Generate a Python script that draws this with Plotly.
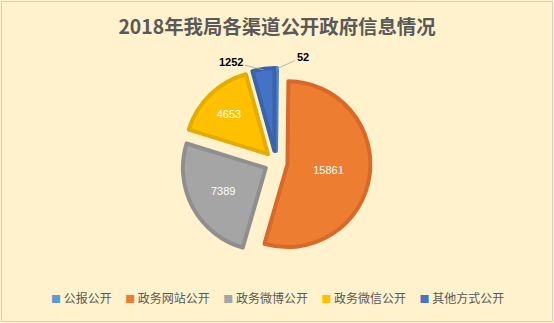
import math
import plotly.graph_objects as go

# Publication channels and their counts for 2018
channels = ["公报公开", "政务网站公开", "政务微博公开", "政务微信公开", "其他方式公开"]
counts = [52, 15861, 7389, 4653, 1252]

fill_colors = ["#5B9BD5", "#ED7D31", "#A5A5A5", "#FFC000", "#4472C4"]
edge_colors = ["#4A86C0", "#D9692A", "#8F8F8F", "#E5AC00", "#3A63AC"]
label_inside = [False, True, True, True, False]
# offsets (px) of the outside labels from the slice edge
label_offsets = {0: (26, -12), 4: (-32, -8)}

W, H = 554, 323
ML, MR, MT, MB = 60, 62, 68, 66
PULL = 0.14
plot_w = W - ML - MR
plot_h = H - MT - MB
cx, cy = ML + plot_w / 2, MT + plot_h / 2
radius = plot_h / 2 / (1 + PULL)


def to_paper(x, y):
    return (x - ML) / plot_w, (H - MB - y) / plot_h


fig = go.Figure(
    go.Pie(
        labels=channels,
        values=counts,
        sort=False,
        direction="clockwise",
        rotation=0,
        pull=[PULL] * len(counts),
        text=[str(v) if ins else "" for v, ins in zip(counts, label_inside)],
        textinfo="text",
        textposition=["inside" if ins else "none" for ins in label_inside],
        insidetextorientation="horizontal",
        textfont=dict(family="Liberation Sans, Arial", size=11, color="#FFFFFF"),
        marker=dict(colors=fill_colors, line=dict(color=edge_colors, width=4)),
        hoverinfo="label+value+percent",
        showlegend=False,
    )
)

annotations = []

# outside value labels with leader lines for the thin slices
total = sum(counts)
start = 0.0
for i, v in enumerate(counts):
    span = 360.0 * v / total
    mid = math.radians(start + span / 2)
    start += span
    if label_inside[i]:
        continue
    dist = (1 + PULL) * radius - 1
    tx = cx + dist * math.sin(mid)
    ty = cy - dist * math.cos(mid)
    px, py = to_paper(tx, ty)
    ax, ay = label_offsets[i]
    annotations.append(
        dict(
            x=px, y=py, xref="paper", yref="paper",
            text=f"<b>{v}</b>",
            showarrow=True, arrowhead=0, arrowwidth=0.8, arrowcolor="#A6A6A6",
            ax=ax, ay=ay, standoff=0,
            font=dict(family="Liberation Sans, Arial", size=11, color="#000000"),
        )
    )

# legend row
gap = "\u00a0" * 5
legend_text = gap.join(
    f'<span style="color:{c};font-size:10px">■</span>\u00a0{name}'
    for c, name in zip(fill_colors, channels)
)
lx, ly = to_paper(W / 2, 297)
annotations.append(
    dict(
        x=lx, y=ly, xref="paper", yref="paper",
        text=legend_text, showarrow=False,
        xanchor="center", yanchor="middle",
        font=dict(family="Noto Sans CJK SC, sans-serif", size=12, color="#595959"),
    )
)

bx0, by0 = to_paper(1.5, H - 1.5)
bx1, by1 = to_paper(W - 1.5, 1.5)

fig.update_layout(
    width=W,
    height=H,
    margin=dict(l=ML, r=MR, t=MT, b=MB),
    paper_bgcolor="#FFF2CC",
    plot_bgcolor="#FFF2CC",
    font=dict(family="Noto Sans CJK SC, sans-serif", color="#595959"),
    title=dict(
        text="<b>2018年我局各渠道公开政府信息情况</b>",
        x=0.5,
        xanchor="center",
        y=1 - 27 / H,
        yref="container",
        yanchor="middle",
        font=dict(size=19.4, color="#595959", family="Noto Sans CJK SC, sans-serif"),
    ),
    showlegend=False,
    annotations=annotations,
    shapes=[
        dict(
            type="rect", xref="paper", yref="paper",
            x0=bx0, x1=bx1, y0=by0, y1=by1,
            line=dict(color="#D0D0D0", width=1),
            fillcolor="rgba(0,0,0,0)",
            layer="below",
        )
    ],
)

fig.write_html("out.html")
